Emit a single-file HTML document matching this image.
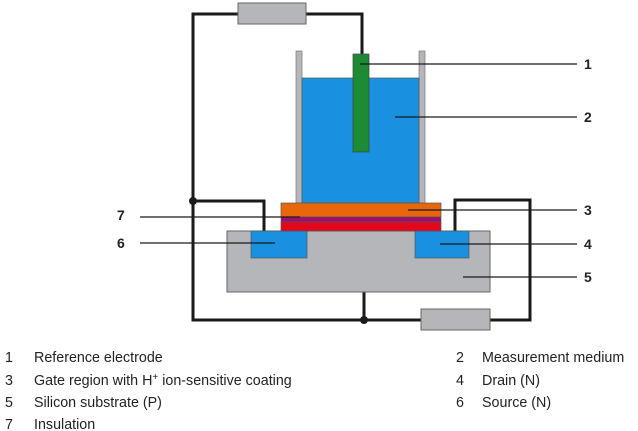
<!DOCTYPE html>
<html><head><meta charset="utf-8"><style>
html,body{margin:0;padding:0;background:#fff;}
svg{display:block;font-family:"Liberation Sans",Arial,sans-serif;}
</style></head><body>
<svg width="638" height="431" viewBox="0 0 638 431">
<g fill="none" stroke="#1a1a1a" stroke-width="3">
<polyline points="238,14 193,14 193,320 421,320"/>
<polyline points="306,14 362,14 362,54"/>
<polyline points="193,201 264,201 264,231"/>
<polyline points="455,231 455,200 530,200 530,320 490,320"/>
<line x1="364" y1="284" x2="364" y2="320"/>
</g>
<circle cx="193" cy="201" r="4" fill="#1a1a1a"/>
<circle cx="364" cy="320" r="4" fill="#1a1a1a"/>
<rect x="238" y="3" width="68" height="21" fill="#b5b6ba" stroke="#666"/>
<rect x="421" y="309" width="69" height="21" fill="#b5b6ba" stroke="#666"/>
<rect x="296" y="51" width="6" height="152" fill="#b5b6ba" stroke="#777" stroke-width="0.7"/>
<rect x="419" y="51" width="6" height="152" fill="#b5b6ba" stroke="#777" stroke-width="0.7"/>
<rect x="302" y="78" width="117" height="125" fill="#1a90e0" stroke="#555" stroke-width="0.7"/>
<rect x="353" y="54" width="16" height="98" fill="#1d8a34" stroke="#444" stroke-width="0.7"/>
<rect x="227" y="231" width="263" height="61" fill="#b5b6ba" stroke="#666"/>
<rect x="251" y="231" width="56" height="27" fill="#1a90e0" stroke="#555" stroke-width="0.7"/>
<rect x="415" y="231" width="54" height="27" fill="#1a90e0" stroke="#555" stroke-width="0.7"/>
<rect x="281" y="203" width="160" height="14" fill="#e8670a" stroke="#555" stroke-width="0.7"/>
<rect x="281" y="217" width="160" height="5" fill="#9c0f6e" stroke="#555" stroke-width="0.5"/>
<rect x="281" y="222" width="160" height="9" fill="#e3071c" stroke="#555" stroke-width="0.7"/>
<g stroke="#1a1a1a" stroke-width="1.2">
<line x1="360" y1="64" x2="577" y2="64"/>
<line x1="395" y1="117" x2="577" y2="117"/>
<line x1="408" y1="210" x2="577" y2="210"/>
<line x1="440" y1="244" x2="577" y2="244"/>
<line x1="463" y1="277" x2="577" y2="277"/>
<line x1="140" y1="217" x2="300" y2="217"/>
<line x1="140" y1="243" x2="275" y2="243"/>
</g>
<g font-size="14" font-weight="bold" fill="#222">
<text x="584" y="69">1</text>
<text x="584" y="122">2</text>
<text x="584" y="215">3</text>
<text x="584" y="249">4</text>
<text x="584" y="282">5</text>
<text x="117" y="248">6</text>
<text x="117" y="220">7</text>
</g>
<g font-size="14.3" fill="#222">
<text x="5" y="362">1</text><text x="34" y="362">Reference electrode</text>
<text x="5" y="385">3</text><text x="34" y="385">Gate region with H<tspan font-size="10" dy="-5">+</tspan><tspan dy="5"> ion-sensitive coating</tspan></text>
<text x="5" y="407">5</text><text x="34" y="407">Silicon substrate (P)</text>
<text x="5" y="429">7</text><text x="34" y="429">Insulation</text>
<text x="456" y="362">2</text><text x="482" y="362">Measurement medium</text>
<text x="456" y="385">4</text><text x="482" y="385">Drain (N)</text>
<text x="456" y="407">6</text><text x="482" y="407">Source (N)</text>
</g>
</svg>
</body></html>
